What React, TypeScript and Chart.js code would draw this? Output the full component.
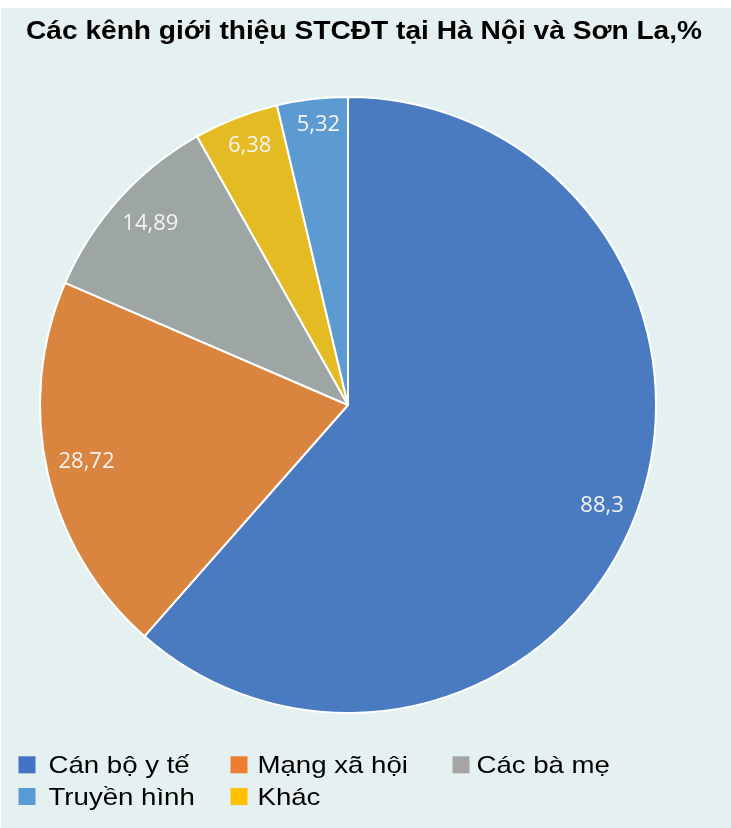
import React, { useEffect, useRef } from "react";
import { Chart, registerables } from "chart.js";

Chart.register(...registerables);

const titleText = "Các kênh giới thiệu STCĐT tại Hà Nội và Sơn La,%";
const categories = ["Cán bộ y tế", "Mạng xã hội", "Các bà mẹ", "Khác", "Truyền hình"];
const values = [88.3, 28.72, 14.89, 6.38, 5.32];
const legendOrder = [0, 1, 2, 4, 3];
const sliceColors = ["#4a7bc0", "#d9843f", "#9da6a5", "#e4bb22", "#5c9bd1"];
const legendColors = ["#4472c4", "#ed7d31", "#a5a5a5", "#ffc000", "#5b9bd5"];

const fmt = (v: number) => String(v).replace(".", ",");

function scaledText(ctx: CanvasRenderingContext2D, text: string, x: number, y: number, sx: number, align: CanvasTextAlign) {
  ctx.save();
  ctx.translate(x, y);
  ctx.scale(sx, 1);
  ctx.textAlign = align;
  ctx.textBaseline = "alphabetic";
  ctx.fillText(text, 0, 0);
  ctx.restore();
}

const decorPlugin = {
  id: "decor",
  afterDatasetsDraw(chart: any) {
    const ctx: CanvasRenderingContext2D = chart.ctx;
    const meta = chart.getDatasetMeta(0);
    const fs = 22;
    ctx.save();
    ctx.font = fs + "px 'Open Sans'";
    ctx.fillStyle = "#f4f4f4";
    ctx.textAlign = "center";
    ctx.textBaseline = "alphabetic";
    meta.data.forEach((arc: any, i: number) => {
      const p = arc.getProps(["x", "y", "startAngle", "endAngle", "outerRadius"], true);
      const mid = (p.startAngle + p.endAngle) / 2 + 0.012;
      const c = Math.cos(mid);
      const s = Math.sin(mid);
      const text = fmt(values[i]);
      const hw = ctx.measureText(text).width / 2;
      const hh = 11;
      const r = p.outerRadius - 11 - (Math.abs(c) * hw + Math.abs(s) * hh);
      const x = p.x + c * r;
      const y = p.y + s * r;
      ctx.fillText(text, x, y + fs * 0.357);
    });
    ctx.restore();
  },
  afterDraw(chart: any) {
    const ctx: CanvasRenderingContext2D = chart.ctx;
    ctx.save();
    // title
    ctx.fillStyle = "#000000";
    ctx.font = "bold 25px 'Liberation Sans'";
    scaledText(ctx, titleText, chart.width / 2 - 2, 30.5, 1.125, "center");
    // legend (grid of 3 columns)
    ctx.font = "24px 'Liberation Sans'";
    const colBox = [17.5, 229.5, 451.5];
    const colText = [30, 27, 24];
    const rowBase = [765.3, 797];
    legendOrder.forEach((idx, k) => {
      const col = k % 3;
      const row = Math.floor(k / 3);
      const bx = colBox[col];
      const by = rowBase[row];
      ctx.fillStyle = legendColors[idx];
      ctx.fillRect(bx, by - 17, 17, 17);
      ctx.fillStyle = "#000000";
      scaledText(ctx, categories[idx], bx + colText[col], by, 1.15, "left");
    });
    ctx.restore();
  },
};

export default function App() {
  const ref = useRef<HTMLCanvasElement>(null);
  useEffect(() => {
    if (!ref.current) return;
    const chart = new Chart(ref.current, {
      type: "pie",
      data: {
        labels: categories,
        datasets: [
          {
            data: values,
            backgroundColor: sliceColors,
            borderColor: "#ffffff",
            borderWidth: 2,
          },
        ],
      },
      options: {
        responsive: false,
        animation: false,
        layout: { padding: { left: 20, right: 56, top: 88, bottom: 114 } },
        plugins: {
          legend: { display: false },
          title: { display: false },
          tooltip: { enabled: false },
        },
      },
      plugins: [decorPlugin],
    } as any);
    return () => chart.destroy();
  }, []);
  return (
    <div style={{ position: "absolute", left: 1, top: 8, width: 730, height: 820, background: "#e5f1f1" }}>
      <canvas ref={ref} width={730} height={820} style={{ display: "block", width: 730, height: 820 }} />
    </div>
  );
}
